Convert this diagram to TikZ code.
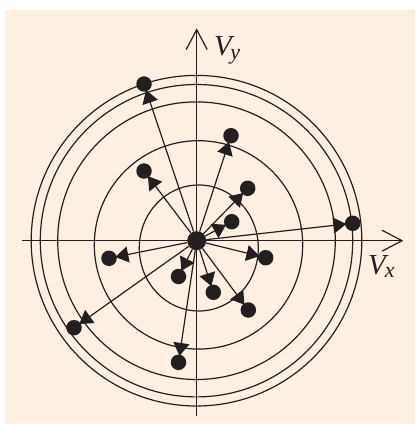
\documentclass[tikz,border=0pt]{standalone}
\usepackage{fontspec}
\usepackage{amsmath}
\setmainfont{Liberation Serif}
\usepackage{xcolor}
\usepackage{tikz}
\definecolor{paper}{RGB}{253,240,227}
\definecolor{ink}{RGB}{35,31,32}
\usetikzlibrary{arrows.meta,positioning}

\begin{document}
\begin{tikzpicture}[
    x=1pt, y=-1pt,
    ring/.style={draw=ink, line width=1.2pt},
    axis/.style={draw=ink, line width=1.2pt, -{Straight Barb[length=20pt, width=21pt]}},
    dot/.style={circle, fill=ink, inner sep=0pt, minimum size=15.5pt},
    vec/.style={draw=ink, line width=1.2pt, -{Triangle[length=13pt, width=16pt]}, shorten >=-1.5pt},
    lbl/.style={text=ink, inner sep=0pt, anchor=base west, font=\fontsize{29}{29}\selectfont\itshape}
]
\useasboundingbox (0,0) rectangle (415,425);
\fill[paper] (5,10) rectangle (415,424);

% rings
\draw[ring] (196.5,240.7) circle[radius=165.3pt];
\draw[ring] (196.5,240.7) circle[radius=156.2pt];
\draw[ring] (196.5,240.7) circle[radius=138.8pt];
\draw[ring] (198.5,244.9) circle[radius=104.2pt];
\draw[ring] (198.8,248) ellipse[x radius=59.5pt, y radius=63pt];

% axes
\coordinate (xmin) at (22,240.7);
\coordinate (xmax) at (403.3,240.7);
\coordinate (ymin) at (196.7,416);
\coordinate (ymax) at (196.7,28.3);
\draw[axis] (xmin) -- (xmax);
\draw[axis] (ymin) -- (ymax);

\node[lbl] (vx) at (368,274.3) {V\kern-1pt\raisebox{-3.5pt}{\fontsize{22}{22}\selectfont x}};
\node[lbl] (vy) at (214,56) {V\kern-1.5pt\raisebox{-3.5pt}{\fontsize{22}{22}\selectfont y}};

% velocity dots
\node[dot, minimum size=19pt] (o) at (196.7,240.7) {};
\node[dot] (v1) at (144,84) {};
\node[dot] (v2) at (231,135.7) {};
\node[dot] (v3) at (144,171) {};
\node[dot] (v4) at (247.7,188.3) {};
\node[dot] (v5) at (231.7,221.7) {};
\node[dot] (v6) at (352.7,223.3) {};
\node[dot] (v7) at (109,258.3) {};
\node[dot] (v8) at (265.7,257.7) {};
\node[dot] (v9) at (178.5,276.5) {};
\node[dot] (v10) at (213.3,292.3) {};
\node[dot] (v11) at (248.3,310) {};
\node[dot] (v12) at (74,327.7) {};
\node[dot] (v13) at (178.5,362.3) {};

\draw[vec] (o) -- (v1);
\draw[vec] (o) -- (v2);
\draw[vec] (o) -- (v3);
\draw[vec] (o) -- (v4);
\draw[vec] (o) -- (v5);
\draw[vec] (o) -- (v6);
\draw[vec] (o) -- (v7);
\draw[vec] (o) -- (v8);
\draw[vec] (o) -- (v9);
\draw[vec] (o) -- (v10);
\draw[vec] (o) -- (v11);
\draw[vec] (o) -- (v12);
\draw[vec] (o) -- (v13);

\end{tikzpicture}
\end{document}
